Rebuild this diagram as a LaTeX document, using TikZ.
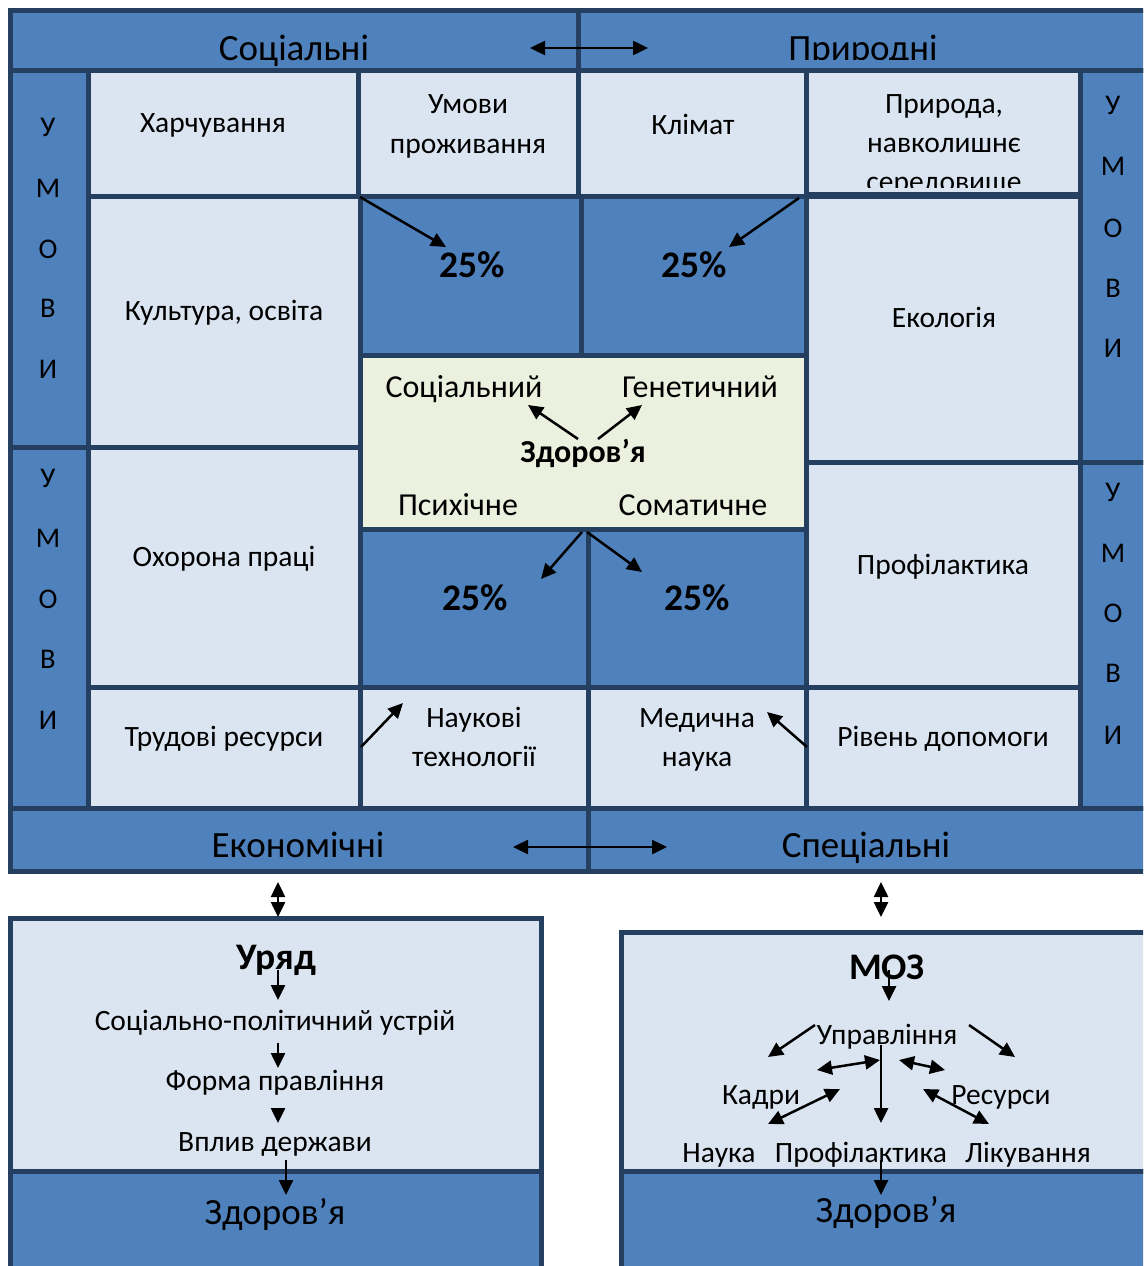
\documentclass[tikz,border=0pt]{standalone}
\usepackage{fontspec}
\setmainfont{Carlito}
\usetikzlibrary{arrows.meta}
\definecolor{bdr}{HTML}{243F60}
\definecolor{midb}{HTML}{4F81BD}
\definecolor{lite}{HTML}{DBE5F1}
\definecolor{grn}{HTML}{EBF1DE}
\newcommand\mkcell[6]{\node[#2, anchor=north west, minimum width={#5pt-#3pt}, minimum height={#6pt-#4pt}] (#1) at (#3,#4) {};}
\newcommand\arr[4]{\coordinate (#1s) at (#3); \coordinate (#1e) at (#4); \draw[#2] (#1s) -- (#1e);}
\tikzset{
  cellbase/.style={draw=bdr, line width=5pt, inner sep=0pt, outer sep=0pt, rectangle},
  cellD/.style={cellbase, fill=midb},
  cellL/.style={cellbase, fill=lite},
  cellG/.style={cellbase, fill=grn},
  txt/.style={font=\fontsize{29.5}{34}\selectfont, inner sep=0pt, anchor=base},
  hdr/.style={font=\fontsize{37}{40}\selectfont, inner sep=0pt, anchor=base},
  pct/.style={font=\bfseries\fontsize{37.5}{40}\selectfont, inner sep=0pt, anchor=base},
  ctr/.style={font=\fontsize{32}{36}\selectfont, inner sep=0pt, anchor=base},
  ctrb/.style={font=\bfseries\fontsize{32}{36}\selectfont, inner sep=0pt, anchor=base},
  hdrb/.style={font=\bfseries\fontsize{37.5}{40}\selectfont, inner sep=0pt, anchor=base},
  letter/.style={font=\fontsize{28.5}{30}\selectfont, inner sep=0pt, anchor=base},
  tipA/.tip={Triangle[length=15pt,width=14pt]},
  conn/.style={line width=2.5pt, -tipA},
  dconn/.style={line width=2.5pt, tipA-tipA},
}
\begin{document}
\begin{tikzpicture}[x=1pt,y=-1pt]
\useasboundingbox (0,0) rectangle (1143,1266);
\clip (0,0) rectangle (1143,1266);
\fill[white] (0,0) rectangle (1143,1266);
% top band
\mkcell{socB}{cellD}{10}{10}{578}{70}
\mkcell{natB}{cellD}{578}{10}{1170}{70}
% side columns
\mkcell{lc1}{cellD}{10}{70}{88}{447}
\mkcell{lc2}{cellD}{10}{447}{88}{808}
\mkcell{rc1}{cellD}{1080}{70}{1170}{462}
\mkcell{rc2}{cellD}{1080}{462}{1170}{808}
% row 1
\mkcell{c11}{cellL}{88}{70}{358}{196}
\mkcell{c12}{cellL}{358}{70}{578}{196}
\mkcell{c13}{cellL}{578}{70}{806}{196}
\mkcell{c14}{cellL}{806}{70}{1080}{194}
% row 2
\mkcell{kult}{cellL}{88}{196}{360}{447}
\mkcell{p1}{cellD}{360}{196}{581}{355}
\mkcell{p2}{cellD}{581}{196}{806}{355}
\mkcell{eco}{cellL}{806}{196}{1080}{462}
\mkcell{zd}{cellG}{360}{355}{806}{529}
\mkcell{ohor}{cellL}{88}{447}{360}{687}
\mkcell{p3}{cellD}{360}{529}{588}{687}
\mkcell{p4}{cellD}{588}{529}{806}{687}
\mkcell{prof}{cellL}{806}{462}{1080}{687}
% bottom row
\mkcell{trud}{cellL}{88}{687}{360}{808}
\mkcell{nauk}{cellL}{360}{687}{588}{808}
\mkcell{med}{cellL}{588}{687}{806}{808}
\mkcell{riv}{cellL}{806}{687}{1080}{808}
% bottom band
\mkcell{econ}{cellD}{10}{808}{588}{871}
\mkcell{spec}{cellD}{588}{808}{1170}{871}
% lower boxes
\mkcell{ury}{cellL}{10}{918}{541}{1171}
\mkcell{zdL}{cellD}{10}{1171}{541}{1290}
\mkcell{moz}{cellL}{621}{932}{1170}{1171}
\mkcell{zdR}{cellD}{621}{1171}{1170}{1290}

% band texts
\node[hdr] (tSoc) at (294,60) {Соціальні};
\begin{scope}
\clip (578,10) rectangle (1143,59);
\node[hdr] (tNat) at (863,60) {Природні};
\end{scope}
\node[hdr] (tEcon) at (298,857) {Економічні};
\node[hdr] (tSpec) at (866,857) {Спеціальні};

% cell texts
\node[txt] (tHar) at (213,132) {Харчування};
\node[txt] (tUm1) at (468,113) {Умови};
\node[txt] (tUm2) at (468,153) {проживання};
\node[txt] (tKlim) at (693,134) {Клімат};
\begin{scope}
\clip (806,70) rectangle (1080,187);
\node[txt] (tPr1) at (944,113) {Природа,};
\node[txt] (tPr2) at (944,152) {навколишнє};
\node[txt] (tPr3) at (944,191) {середовище};
\end{scope}
\node[txt] (tKult) at (224,320) {Культура, освіта};
\node[txt] (tEco) at (944,327) {Екологія};
\node[txt] (tOhor) at (224,566) {Охорона праці};
\node[txt] (tProf) at (943,574) {Профілактика};
\node[txt] (tTrud) at (224,746) {Трудові ресурси};
\node[txt] (tNk1) at (474,727) {Наукові};
\node[txt] (tNk2) at (474,766) {технології};
\node[txt] (tMd1) at (697,727) {Медична};
\node[txt] (tMd2) at (697,766) {наука};
\node[txt] (tRiv) at (943,746) {Рівень допомоги};
\node[pct] (t25a) at (472,277) {25\%};
\node[pct] (t25b) at (694,277) {25\%};
\node[pct] (t25c) at (475,610) {25\%};
\node[pct] (t25d) at (697,610) {25\%};
\node[ctr] (tCSoc) at (464,397) {Соціальний};
\node[ctr] (tCGen) at (700,397) {Генетичний};
\node[ctrb] (tCZd) at (583,462) {Здоров’я};
\node[ctr] (tCPs) at (458,515) {Психічне};
\node[ctr] (tCSom) at (693,515) {Соматичне};

% side letters
\foreach \l/\y [count=\i] in {У/136,М/197,О/258,В/317,И/378}
  \node[letter] (lA\i) at (48,\y) {\l};
\foreach \l/\y [count=\i] in {У/487,М/547,О/608,В/668,И/729}
  \node[letter] (lB\i) at (48,\y) {\l};
\foreach \l/\y [count=\i] in {У/114,М/175,О/237,В/297,И/357}
  \node[letter] (lC\i) at (1113,\y) {\l};
\foreach \l/\y [count=\i] in {У/501,М/562,О/622,В/682,И/744}
  \node[letter] (lD\i) at (1113,\y) {\l};

% lower-left texts
\node[hdrb] (tUr) at (276,969) {Уряд};
\node[txt] (tSp) at (275,1030) {Соціально-політичний устрій};
\node[txt] (tFp) at (275,1090) {Форма правління};
\node[txt] (tVd) at (275,1151) {Вплив держави};
\node[hdr] (tZL) at (275,1224) {Здоров’я};
% lower-right texts
\node[hdrb] (tMoz) at (887,979) {МОЗ};
\node[txt] (tUpr) at (887,1044) {Управління};
\node[txt] (tKad) at (761,1104) {Кадри};
\node[txt] (tRes) at (1001,1104) {Ресурси};
\node[txt] (tNau) at (719,1162) {Наука};
\node[txt] (tPrf) at (861,1162) {Профілактика};
\node[txt] (tLik) at (1028,1162) {Лікування};
\node[hdr] (tZR) at (886,1222) {Здоров’я};

% arrows
\arr{aTop}{dconn}{530,48}{648,48}
\arr{aP1}{conn}{360,197}{446,247}
\arr{aP2}{conn}{799,198}{729,247}
\arr{aS}{conn}{578,439}{528,405}
\arr{aG}{conn}{598,439}{642,405}
\arr{aP3}{conn}{582,532}{541,579}
\arr{aP4}{conn}{587,532}{642,572}
\arr{aTr}{conn}{361,747}{403,703}
\arr{aRv}{conn}{807,747}{767,712}
\arr{aBot}{dconn}{513,847}{667,847}
\arr{aVL}{dconn}{278,882}{278,917}
\arr{aVR}{dconn}{881,882}{881,917}
\arr{aU1}{conn}{278,970}{278,1000}
\arr{aU2}{conn}{278,1043}{278,1068}
\arr{aU3}{conn}{278,1108}{278,1123}
\arr{aU4}{conn}{286,1160}{286,1195}
\arr{aM1}{conn}{889,970}{889,1001}
\arr{aM2}{conn}{815,1025}{768,1057}
\arr{aM3}{conn}{969,1025}{1015,1057}
\arr{aM4}{dconn}{817,1070}{880,1060}
\arr{aM5}{dconn}{899,1060}{945,1070}
\arr{aM6}{conn}{881,1045}{881,1123}
\arr{aM7}{dconn}{768,1124}{840,1089}
\arr{aM8}{dconn}{923,1089}{989,1124}
\arr{aM9}{conn}{881,1160}{881,1195}
\end{tikzpicture}
\end{document}
